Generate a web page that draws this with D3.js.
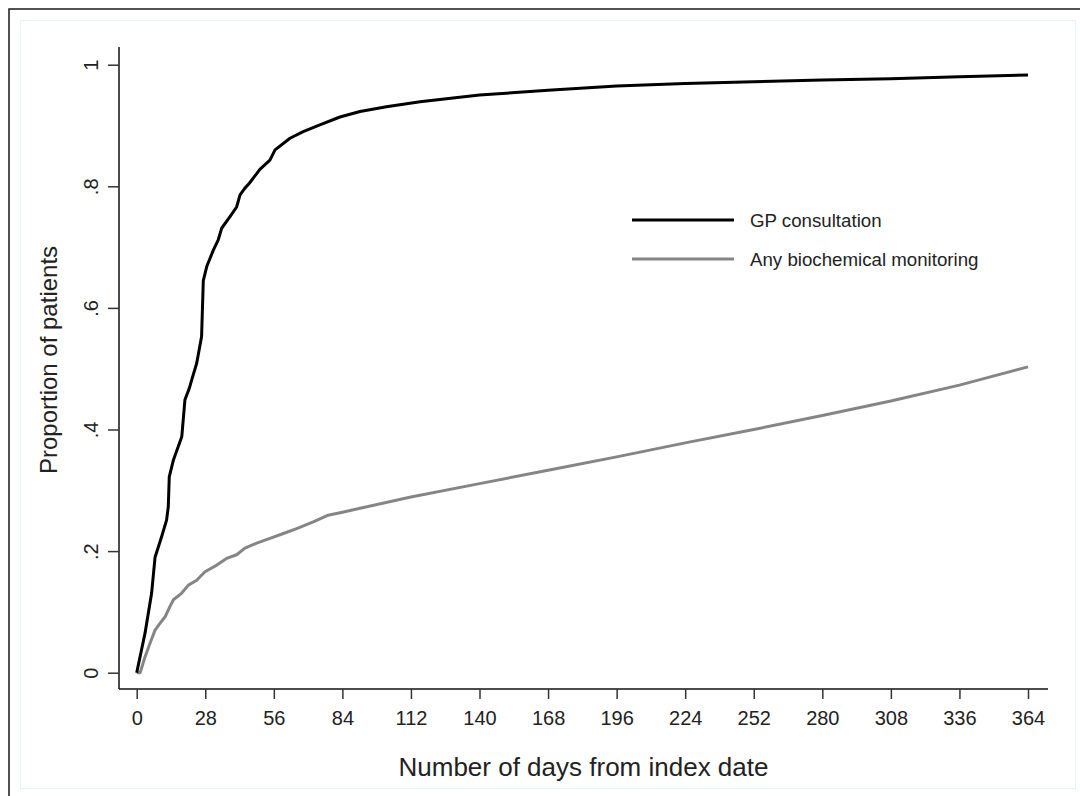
<!DOCTYPE html>
<html>
<head>
<meta charset="utf-8">
<script src="https://cdn.jsdelivr.net/npm/d3@7"></script>
<style>
    body { margin: 0; background: #fff; }
    svg { display: block; font-family: 'Liberation Sans', Arial, Helvetica, sans-serif; }
</style>
</head>
<body>
<div id="chart"></div>
<script>
// Data
const gpDays = [0, 3.4, 6.1, 7.5, 10.2, 12.2, 12.9, 13.3, 15, 18.4, 19, 19.7, 21.5, 22.5, 24.5, 26.5, 27.2, 28.6,
    31.3, 33.3, 34.7, 38.1, 40.8, 42.2, 44.2, 46, 49, 50.3, 54.4, 56.5, 62.6, 68, 74.8, 83, 91.2, 102, 115.7,
    140, 168, 196, 224, 252, 280, 308, 336, 364];
const gpProp = [0, 0.065, 0.131, 0.19, 0.224, 0.251, 0.273, 0.322, 0.35, 0.388, 0.416, 0.449, 0.468, 0.482, 0.509, 0.553, 0.645, 0.668,
    0.695, 0.712, 0.731, 0.75, 0.766, 0.786, 0.797, 0.805, 0.821, 0.828, 0.843, 0.86, 0.879, 0.89, 0.901, 0.914, 0.923, 0.931, 0.939,
    0.95, 0.958, 0.965, 0.969, 0.972, 0.975, 0.977, 0.98, 0.983];

const bioDays = [0, 1.4, 3.4, 5.4, 7.5, 9.5, 11.6, 13.6, 15, 18.4, 21.1, 24.5, 27.9, 32.7, 36.7, 40.8, 44.2, 49, 54.4,
    59.9, 65.3, 72.1, 78.2, 84, 112, 140, 168, 196, 224, 252, 280, 308, 336, 364];
const bioProp = [0, 0, 0.026, 0.048, 0.07, 0.081, 0.092, 0.109, 0.12, 0.131, 0.144, 0.152, 0.166, 0.177, 0.188, 0.194, 0.205, 0.213, 0.221,
    0.229, 0.237, 0.248, 0.259, 0.264, 0.289, 0.311, 0.333, 0.355, 0.378, 0.4, 0.423, 0.447, 0.473, 0.503];

const xTicks = [0, 28, 56, 84, 112, 140, 168, 196, 224, 252, 280, 308, 336, 364];
const yTicks = [0, 0.2, 0.4, 0.6, 0.8, 1];
const yTickLabels = ['0', '.2', '.4', '.6', '.8', '1'];

const seriesNames = ['GP consultation', 'Any biochemical monitoring'];
const seriesColors = ['#000000', '#858585'];

const xAxisLabel = 'Number of days from index date';
const yAxisLabel = 'Proportion of patients';

// Layout
const width = 1080;
const height = 796;

const plot = { left: 119, right: 1048, top: 47, bottom: 689 };

const xScale = d3.scaleLinear().domain([0, 364]).range([136.7, 1028]);
const yScale = d3.scaleLinear().domain([0, 1]).range([672.7, 64.7]);

const svg = d3.select('#chart')
    .append('svg')
        .attr('width', width)
        .attr('height', height);

// outer frame
svg.append('rect')
    .attr('x', 9).attr('y', 9)
    .attr('width', width + 10).attr('height', height + 10)
    .attr('fill', 'none')
    .attr('stroke', '#1a1a1a')
    .attr('stroke-width', 1.5);

svg.append('rect')
    .attr('x', 20.5).attr('y', 20.5)
    .attr('width', 1055).attr('height', 768)
    .attr('fill', 'none')
    .attr('stroke', '#eaf0f4')
    .attr('stroke-width', 1);

// axis lines
svg.append('line')
    .attr('x1', plot.left).attr('x2', plot.right)
    .attr('y1', plot.bottom).attr('y2', plot.bottom)
    .attr('stroke', '#111').attr('stroke-width', 1.5);

svg.append('line')
    .attr('x1', plot.left).attr('x2', plot.left)
    .attr('y1', plot.top).attr('y2', plot.bottom)
    .attr('stroke', '#111').attr('stroke-width', 1.5);

// x axis ticks
const xAxis = d3.axisBottom(xScale)
    .tickValues(xTicks)
    .tickSize(10)
    .tickPadding(12)
    .tickFormat(d3.format('d'));

const xAxisGroup = svg.append('g')
    .attr('transform', `translate(0, ${plot.bottom})`)
    .call(xAxis);
xAxisGroup.select('.domain').remove();
xAxisGroup.selectAll('line').attr('stroke', '#333').attr('stroke-width', 1.5);
xAxisGroup.selectAll('text')
    .attr('font-size', 20)
    .attr('font-family', "'Liberation Sans', Arial, sans-serif")
    .attr('fill', '#222');

// y axis ticks (labels rotated)
const yAxis = d3.axisLeft(yScale)
    .tickValues(yTicks)
    .tickSize(11)
    .tickFormat((d, i) => yTickLabels[i]);

const yAxisGroup = svg.append('g')
    .attr('transform', `translate(${plot.left}, 0)`)
    .call(yAxis);
yAxisGroup.select('.domain').remove();
yAxisGroup.selectAll('line').attr('stroke', '#333').attr('stroke-width', 1.5);
yAxisGroup.selectAll('text')
    .attr('transform', 'rotate(-90)')
    .attr('x', 0)
    .attr('y', -21)
    .attr('dy', 0)
    .attr('text-anchor', 'middle')
    .attr('font-size', 20)
    .attr('font-family', "'Liberation Sans', Arial, sans-serif")
    .attr('fill', '#222');

// axis titles
svg.append('text')
    .text(xAxisLabel)
    .attr('x', (plot.left + plot.right) / 2)
    .attr('y', 776)
    .attr('text-anchor', 'middle')
    .attr('font-size', 26)
    .attr('fill', '#222');

svg.append('text')
    .text(yAxisLabel)
    .attr('transform', 'translate(57, 360) rotate(-90)')
    .attr('text-anchor', 'middle')
    .attr('font-size', 24)
    .attr('fill', '#222');

// lines
const line = d3.line()
    .x(d => xScale(d[0]))
    .y(d => yScale(d[1]));

const series = [
    d3.zip(bioDays, bioProp),
    d3.zip(gpDays, gpProp)
];
const seriesOrder = [1, 0];

svg.append('g')
    .attr('id', 'lines')
    .selectAll('path')
    .data(series)
    .enter().append('path')
        .attr('d', line)
        .attr('fill', 'none')
        .attr('stroke', (d, i) => seriesColors[seriesOrder[i]])
        .attr('stroke-width', 3)
        .attr('stroke-linejoin', 'round');

// legend
const legend = svg.append('g')
    .attr('id', 'legend')
    .attr('transform', 'translate(632, 220)');

const legendRow = legend.selectAll('g')
    .data(seriesNames)
    .enter().append('g')
        .attr('transform', (d, i) => `translate(0, ${i * 39})`);

legendRow.append('line')
    .attr('x1', 0).attr('x2', 102)
    .attr('y1', 0).attr('y2', 0)
    .attr('stroke', (d, i) => seriesColors[i])
    .attr('stroke-width', 3);

legendRow.append('text')
    .text(d => d)
    .attr('x', 118)
    .attr('y', 7)
    .attr('font-size', 18.7)
    .attr('fill', '#222');
</script>
</body>
</html>
